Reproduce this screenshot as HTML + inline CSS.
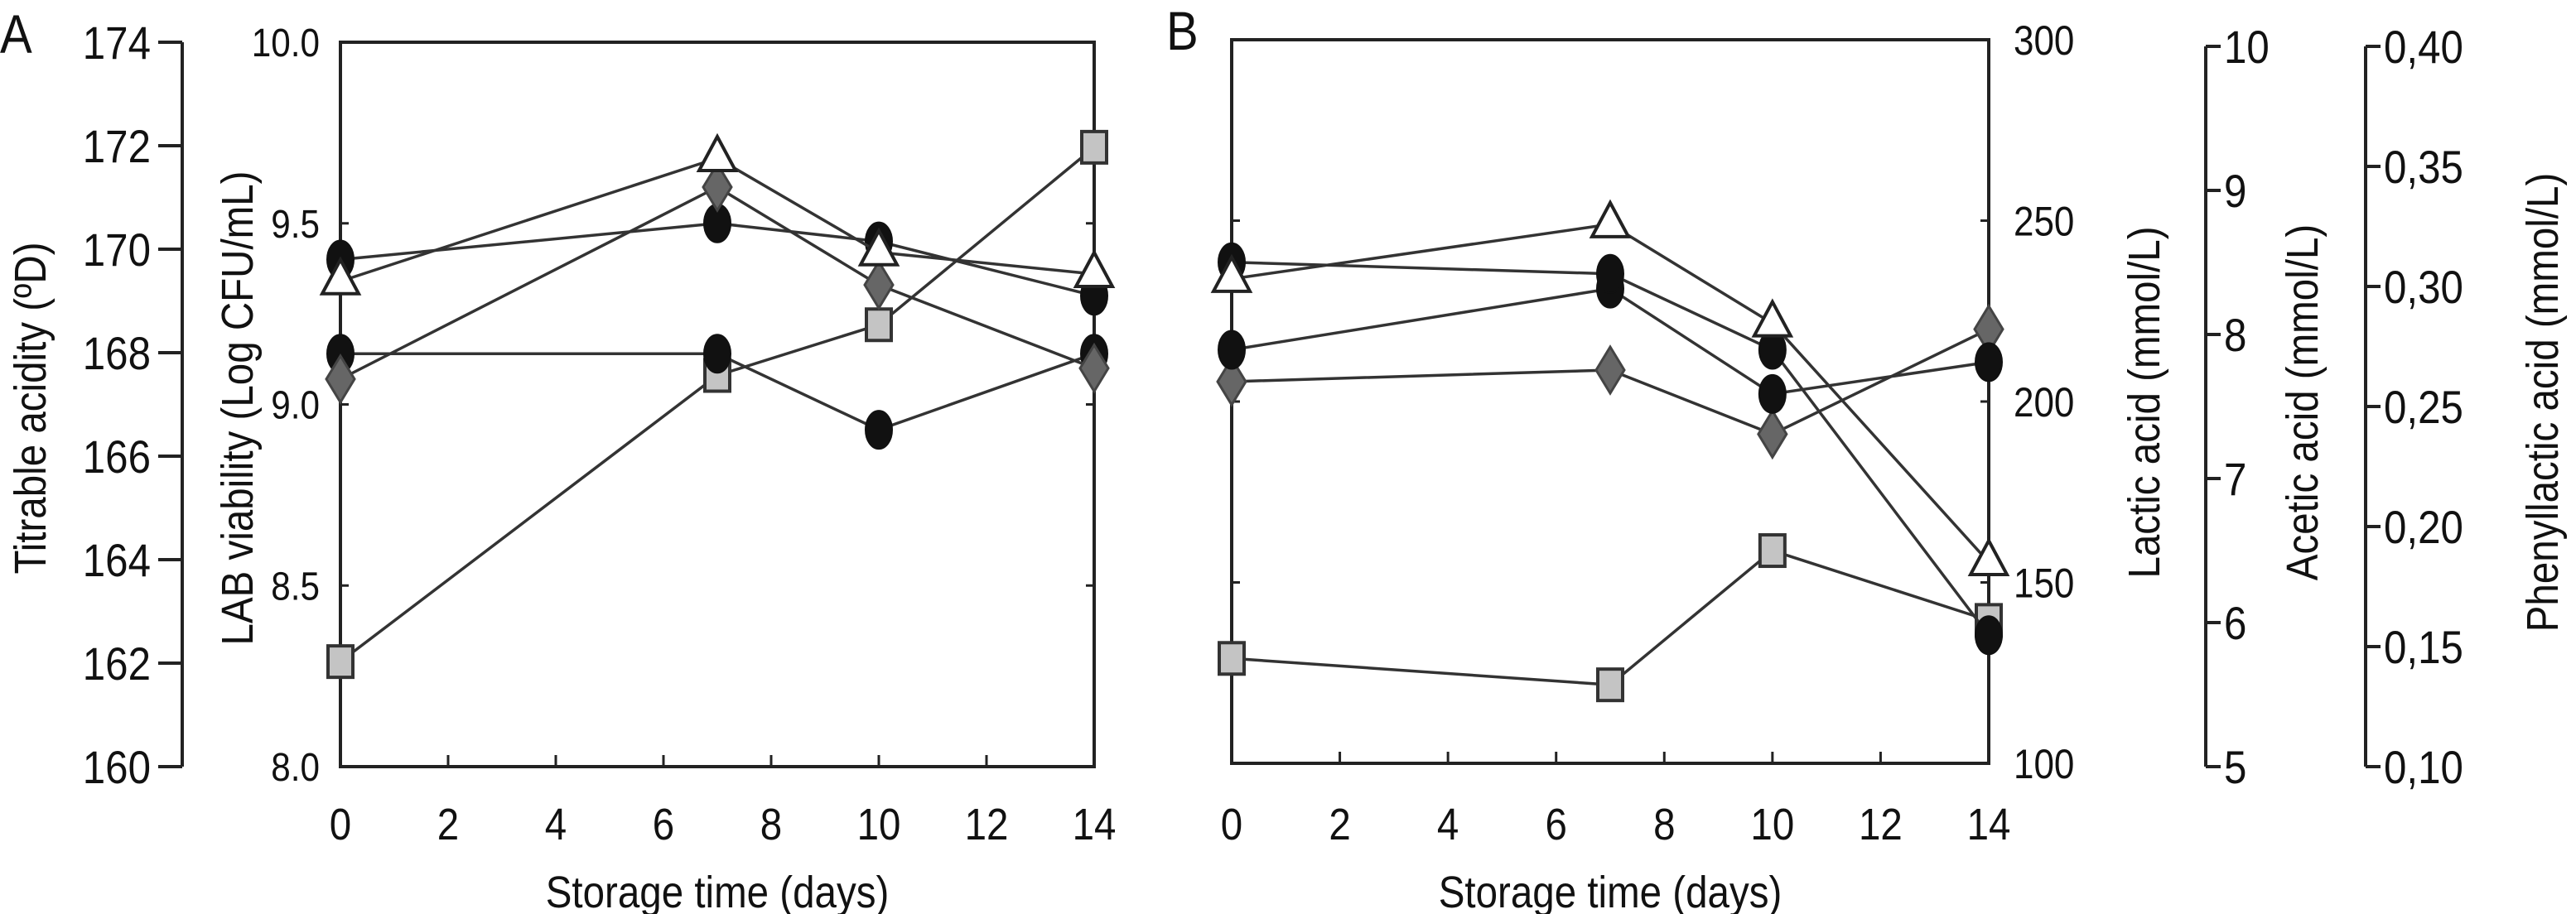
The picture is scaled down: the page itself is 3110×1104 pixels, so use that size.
<!DOCTYPE html>
<html><head><meta charset="utf-8"><style>
body{margin:0;background:#fff}
svg{display:block}
text{font-family:"Liberation Sans",sans-serif;fill:#111}
</style></head><body>
<svg id="chart" width="3110" height="1104" viewBox="0 0 3110 1104" xmlns="http://www.w3.org/2000/svg">
<g id="static"></g>
<g id="marks"></g>
</svg>
<script>
const days=[0,7,10,14];
const xTicks=[0,2,4,6,8,10,12,14];
// Panel A (LAB viability, log CFU/mL)
const aTriangle=[9.34,9.68,9.42,9.36];
const aDiamond=[9.07,9.60,9.33,9.10];
const aCircle1=[9.40,9.50,9.45,9.30];
const aCircle2=[9.14,9.14,8.93,9.14];
const aSquare=[8.29,9.08,9.22,9.71];
const aLeftTicks=["160","162","164","166","168","170","172","174"];
const aRightTicks=["8.0","8.5","9.0","9.5","10.0"];
// Panel B (lactic acid mmol/L scale)
const bTriangle=[233.9,249.0,221.6,155.6];
const bCircle1=[238.5,235.3,214.3,135.4];
const bCircle2=[214.3,231.2,202.1,210.9];
const bDiamond=[205.5,208.7,191.0,220.0];
const bSquare=[129.0,121.7,158.8,139.5];
const lacticTicks=["100","150","200","250","300"];
const aceticTicks=["5","6","7","8","9","10"];
const phenylTicks=["0,10","0,15","0,20","0,25","0,30","0,35","0,40"];

const NS="http://www.w3.org/2000/svg";
const st=document.getElementById('static'),mk=document.getElementById('marks');
function el(p,tag,at,txt){const e=document.createElementNS(NS,tag);for(const k in at)e.setAttribute(k,at[k]);if(txt!==undefined)e.textContent=txt;p.appendChild(e);return e;}
// condensed text helper
function ctext(x,y,size,anchor,s,rot){
  const tr=rot?`translate(${x},${y}) rotate(-90) scale(0.88,1)`:`translate(${x},${y}) scale(0.88,1)`;
  return el(st,'text',{x:0,y:0,'font-size':size,'text-anchor':anchor,transform:tr},s);
}

const A={l:411,r:1321,t:51,b:926},B={l:1487,r:2401,t:48,b:922};
const xA=d=>A.l+(A.r-A.l)*d/14, xB=d=>B.l+(B.r-B.l)*d/14;
const yA=v=>A.b-(A.b-A.t)*(v-8)/2, yB=v=>B.b-(B.b-B.t)*(v-100)/200;

function frame(P,x,name){
  const f=el(st,'rect',{x:P.l,y:P.t,width:P.r-P.l,height:P.b-P.t,fill:'none',stroke:'#222','stroke-width':4});
  
  xTicks.forEach(d=>{
    const X=x(d);
    el(st,'line',{x1:X,x2:X,y1:P.b,y2:P.b-14,stroke:'#222','stroke-width':3});
    const t=ctext(X,1014,54,'middle',d);
    
  });
  const tt=ctext((P.l+P.r)/2,1096,54,'middle','Storage time (days)');
  
}
frame(A,xA,'plot-frame-a');frame(B,xB,'plot-frame-b');

el(st,'line',{x1:220,x2:220,y1:A.t,y2:A.b,stroke:'#222','stroke-width':4});
aLeftTicks.forEach((s,i)=>{const y=A.b-(A.b-A.t)*i/(aLeftTicks.length-1);
  el(st,'line',{x1:191,x2:220,y1:y,y2:y,stroke:'#222','stroke-width':4});
  const t=ctext(182,y+20,56,'end',s);
  });
aRightTicks.forEach((s,i)=>{const y=A.b-(A.b-A.t)*i/(aRightTicks.length-1);
  if(i>0&&i<aRightTicks.length-1){el(st,'line',{x1:A.l,x2:A.l+10,y1:y,y2:y,stroke:'#222','stroke-width':3});el(st,'line',{x1:A.r,x2:A.r-10,y1:y,y2:y,stroke:'#222','stroke-width':3});}
  const t=ctext(386,y+17,48,'end',s);
  });
let t;
t=ctext(55,493,54,'middle','Titrable acidity (ºD)',true);

t=ctext(305,493,54,'middle','LAB viability (Log CFU/mL)',true);

t=ctext(0,64,66,'start','A');
t=ctext(1408,60,66,'start','B');

lacticTicks.forEach((s,i)=>{const y=B.b-(B.b-B.t)*i/(lacticTicks.length-1);
  if(i>0&&i<lacticTicks.length-1){el(st,'line',{x1:B.l,x2:B.l+10,y1:y,y2:y,stroke:'#222','stroke-width':3});el(st,'line',{x1:B.r,x2:B.r-10,y1:y,y2:y,stroke:'#222','stroke-width':3});}
  const t=ctext(2431,y+18,50,'start',s);
  });
function sideAxis(x,labels,name){
  el(st,'line',{x1:x,x2:x,y1:B.t+8,y2:B.b+4,stroke:'#222','stroke-width':4});
  labels.forEach((s,i)=>{const y=(B.b+4)-((B.b+4)-(B.t+8))*i/(labels.length-1);
    el(st,'line',{x1:x,x2:x+18,y1:y,y2:y,stroke:'#222','stroke-width':4});
    const t=ctext(x+22,y+20,56,'start',s);
    });
}
sideAxis(2663,aceticTicks,'acetic-tick-label');sideAxis(2856,phenylTicks,'phenyllactic-tick-label');
t=ctext(2607,486,54,'middle','Lactic acid (mmol/L)',true);

t=ctext(2798,486,54,'middle','Acetic acid (mmol/L)',true);

t=ctext(3088,486,54,'middle','Phenyllactic acid (mmol/L)',true);


function marker(type,X,Y){
  let e;
  if(type==='tri')e=el(mk,'polygon',{points:`${X},${Y-26} ${X-22},${Y+15} ${X+22},${Y+15}`,fill:'#fff',stroke:'#222','stroke-width':4});
  else if(type==='dia')e=el(mk,'polygon',{points:`${X},${Y-28} ${X+17},${Y} ${X},${Y+28} ${X-17},${Y}`,fill:'#666',stroke:'#444','stroke-width':3});
  else if(type==='cir')e=el(mk,'ellipse',{cx:X,cy:Y,rx:16,ry:23,fill:'#111',stroke:'#111','stroke-width':2});
  else e=el(mk,'rect',{x:X-15,y:Y-19,width:30,height:38,fill:'#c4c4c4',stroke:'#333','stroke-width':4});
  return e;
}
function series(vals,xf,yf,type,name){
  const pts=vals.map((v,i)=>[xf(days[i]),yf(v)]);
  const pl=el(mk,'polyline',{points:pts.map(p=>p.join(',')).join(' '),fill:'none',stroke:'#333','stroke-width':3.5});
  
  pts.forEach(p=>{const m=marker(type,p[0],p[1]);
    
    });
}
series(aSquare,xA,yA,'sq','a-square');
series(aCircle2,xA,yA,'cir','a-circle-2');
series(aCircle1,xA,yA,'cir','a-circle-1');
series(aDiamond,xA,yA,'dia','a-diamond');
series(aTriangle,xA,yA,'tri','a-triangle');
series(bSquare,xB,yB,'sq','b-square');
series(bDiamond,xB,yB,'dia','b-diamond');
series(bCircle2,xB,yB,'cir','b-circle-2');
series(bCircle1,xB,yB,'cir','b-circle-1');
series(bTriangle,xB,yB,'tri','b-triangle');
</script>
</body></html>
